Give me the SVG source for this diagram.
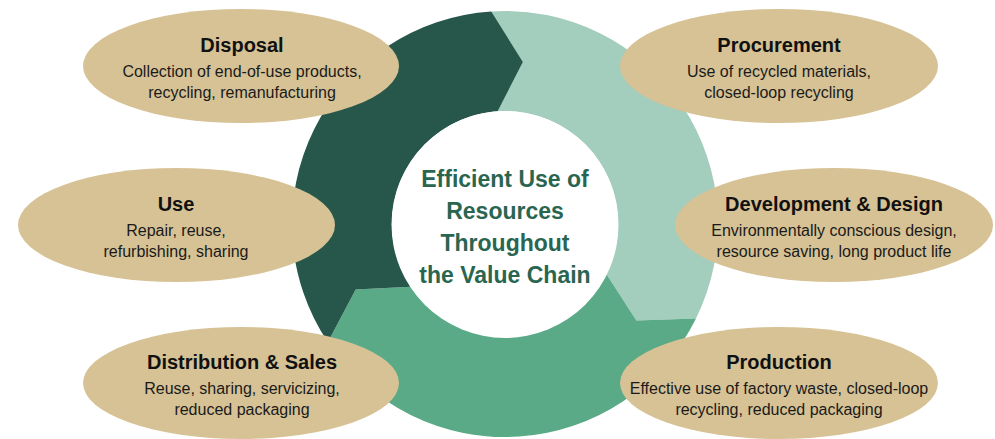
<svg xmlns="http://www.w3.org/2000/svg" width="995" height="439" viewBox="0 0 995 439">
  <style>
    .ell { fill: #D6C295; }
    .title { font-family: "Liberation Sans", Arial, sans-serif; font-weight: bold; font-size: 20px; fill: #111111; text-anchor: middle; }
    .desc { font-family: "Liberation Sans", Arial, sans-serif; font-size: 16px; fill: #1a1a1a; text-anchor: middle; }
    .ctext { font-family: "Liberation Sans", Arial, sans-serif; font-weight: bold; font-size: 23px; fill: #2A6550; text-anchor: middle; }
  </style>
  <rect width="995" height="439" fill="#ffffff"/>
  <g id="connectors">
    <path id="seg-light" fill="#A3CDBC" d="M491.3,11.4 A213,213 0 0 1 696.0,318.4 L636.4,320.5 L606.3,274.1 A113,113 0 0 0 497.7,111.2 L522.9,62.0 Z"/>
    <path id="seg-medium" fill="#5BAA87" d="M696.0,318.4 A213,213 0 0 1 327.8,342.2 L355.7,289.5 L411.0,286.7 A113,113 0 0 0 606.3,274.1 L636.4,320.5 Z"/>
    <path id="seg-dark" fill="#26574A" d="M327.8,342.2 A213,213 0 0 1 491.3,11.4 L522.9,62.0 L497.7,111.2 A113,113 0 0 0 411.0,286.7 L355.7,289.5 Z"/>
  </g>
  <g id="center">
    <circle cx="505" cy="224.5" r="113.5" fill="#ffffff"/>
    <text class="ctext" x="505" y="187">Efficient Use of</text>
    <text class="ctext" x="505" y="219">Resources</text>
    <text class="ctext" x="505" y="251">Throughout</text>
    <text class="ctext" x="505" y="283">the Value Chain</text>
  </g>
  <g id="disposal">
    <ellipse class="ell" cx="241" cy="66" rx="158" ry="57"/>
    <text class="title" x="242" y="52">Disposal</text>
    <text class="desc" x="242" y="77">Collection of end-of-use products,</text>
    <text class="desc" x="242" y="98">recycling, remanufacturing</text>
  </g>
  <g id="use">
    <ellipse class="ell" cx="176.5" cy="225" rx="158.5" ry="57"/>
    <text class="title" x="176" y="211">Use</text>
    <text class="desc" x="176" y="236">Repair, reuse,</text>
    <text class="desc" x="176" y="257">refurbishing, sharing</text>
  </g>
  <g id="distribution-sales">
    <ellipse class="ell" cx="241" cy="383" rx="158" ry="56"/>
    <text class="title" x="242" y="369">Distribution &amp; Sales</text>
    <text class="desc" x="242" y="394">Reuse, sharing, servicizing,</text>
    <text class="desc" x="242" y="415">reduced packaging</text>
  </g>
  <g id="procurement">
    <ellipse class="ell" cx="779" cy="66" rx="159" ry="57"/>
    <text class="title" x="779" y="52">Procurement</text>
    <text class="desc" x="779" y="77">Use of recycled materials,</text>
    <text class="desc" x="779" y="98">closed-loop recycling</text>
  </g>
  <g id="development-design">
    <ellipse class="ell" cx="834" cy="225" rx="159" ry="57"/>
    <text class="title" x="834" y="211">Development &amp; Design</text>
    <text class="desc" x="834" y="236">Environmentally conscious design,</text>
    <text class="desc" x="834" y="257">resource saving, long product life</text>
  </g>
  <g id="production">
    <ellipse class="ell" cx="779" cy="383" rx="159" ry="56"/>
    <text class="title" x="779" y="369">Production</text>
    <text class="desc" x="779" y="394">Effective use of factory waste, closed-loop</text>
    <text class="desc" x="779" y="415">recycling, reduced packaging</text>
  </g>
</svg>
